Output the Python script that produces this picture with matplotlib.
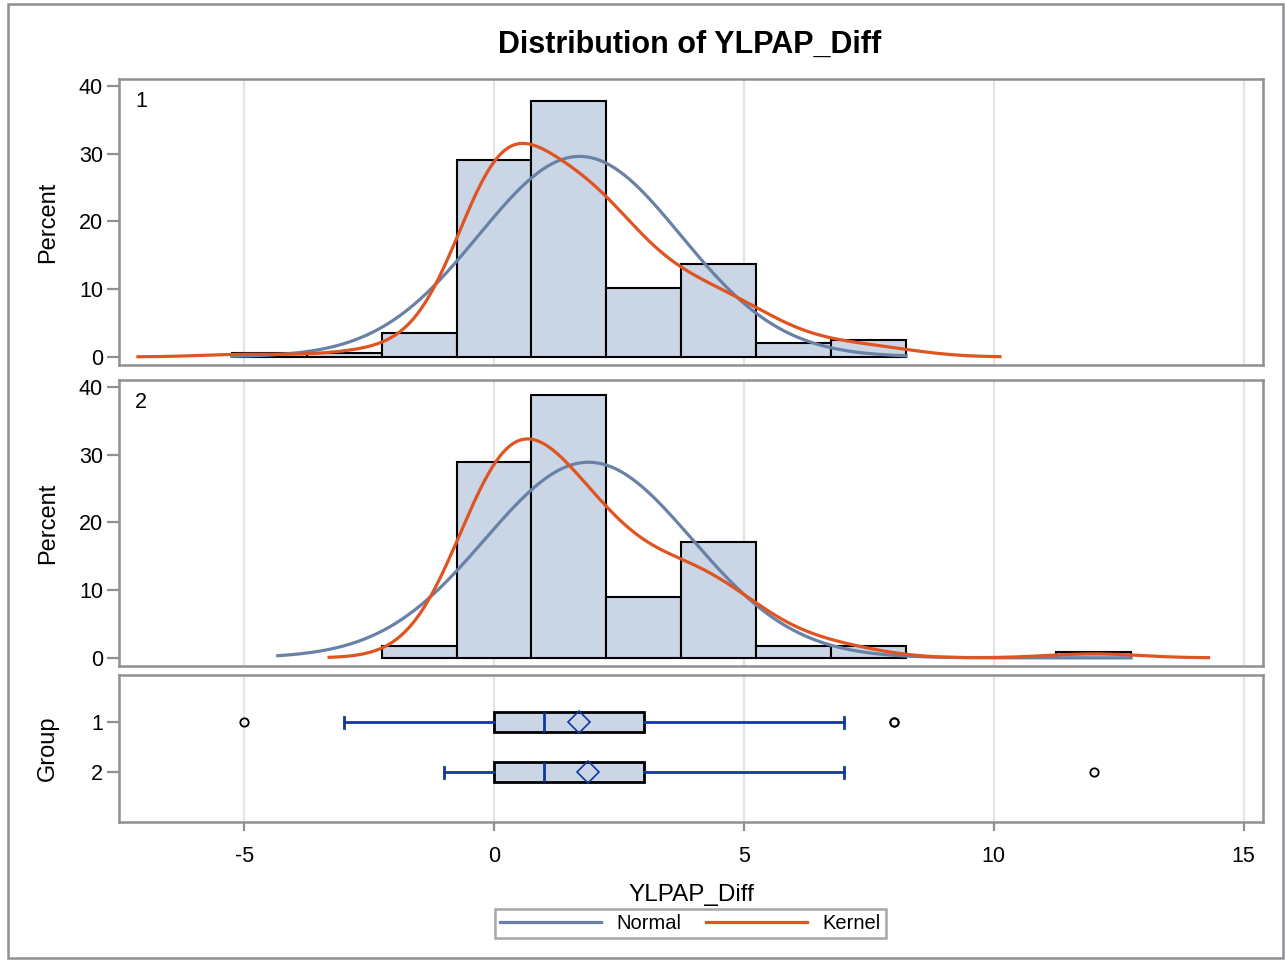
import numpy as np
import matplotlib
matplotlib.use("Agg")
import matplotlib.pyplot as plt
from matplotlib.patches import Rectangle
from matplotlib.lines import Line2D

plt.rcParams['font.family'] = ['Liberation Sans', 'DejaVu Sans']

# ---------------- data ----------------
groups = ['1', '2']
values_g1 = [-5, -3, -2, -1, 0, 1, 2, 3, 4, 5, 6, 7, 8]
counts_g1 = [1, 1, 2, 5, 57, 36, 38, 20, 15, 12, 4, 3, 2]
values_g2 = [-1, 0, 1, 2, 3, 4, 5, 6, 7, 12]
counts_g2 = [2, 32, 25, 18, 10, 12, 7, 2, 2, 1]
bin_width = 1.5
bin_first_edge = -5.25
bin_last_edge = 13.5
kernel_bandwidth = [0.85, 0.92]

box_q1 = [0, 0]
box_median = [1, 1]
box_q3 = [3, 3]
whisker_low = [-3, -1]
whisker_high = [7, 7]
box_mean = [1.71, 1.89]
outliers = [[-5, 8, 8], [12]]

x_ticks = [-5, 0, 5, 10, 15]
y_ticks = [0, 10, 20, 30, 40]

title = 'Distribution of YLPAP_Diff'
x_label = 'YLPAP_Diff'

# ---------------- style ----------------
FILL = '#CAD5E5'
NORMAL_C = '#6981A6'
KERNEL_C = '#DF5421'
BOX_BLUE = '#1238A0'
FRAME = '#8E9093'
GRID = '#E4E4E4'

W, H = 1285, 961
fig = plt.figure(figsize=(W / 100, H / 100), dpi=100)


def fx(px):
    return px / W


def fy(py):
    return 1 - py / H


L, R = 119, 1263
XMIN = (L - 494) / 49.97
XMAX = (R - 494) / 49.97

ax1 = fig.add_axes([fx(L), fy(365), (R - L) / W, (365 - 79) / H])
ax2 = fig.add_axes([fx(L), fy(666), (R - L) / W, (666 - 380) / H])
ax3 = fig.add_axes([fx(L), fy(822), (R - L) / W, (822 - 675) / H])


def style_axes(ax, show_x):
    ax.set_xlim(XMIN, XMAX)
    ax.set_xticks(x_ticks)
    for s in ax.spines.values():
        s.set_color(FRAME)
        s.set_linewidth(1.8)
    ax.tick_params(axis='y', direction='out', length=8.5, width=1.6,
                   color=FRAME, labelsize=15.5, labelcolor='black', pad=3)
    ax.tick_params(axis='x', direction='out', length=6.5, width=1.6,
                   color=FRAME, labelsize=15.5, labelcolor='black', pad=11)
    if not show_x:
        ax.tick_params(axis='x', length=0, labelbottom=False)
    for t in x_ticks:
        ax.axvline(t, color=GRID, lw=1.6, zorder=0)


def hist_panel(ax, values, counts, h, label):
    values = np.asarray(values, float)
    counts = np.asarray(counts, float)
    n = counts.sum()
    edges = np.arange(bin_first_edge, bin_last_edge + 1e-9, bin_width)
    hc, _ = np.histogram(values, bins=edges, weights=counts)
    pct = 100 * hc / n
    centers = (edges[:-1] + edges[1:]) / 2
    nz = pct > 0
    ax.bar(centers[nz], pct[nz], width=bin_width, color=FILL,
           edgecolor='black', linewidth=1.5, zorder=2)
    # normal fit
    m = (values * counts).sum() / n
    sd = np.sqrt(((values - m) ** 2 * counts).sum() / (n - 1))
    lo = min(centers[nz].min() - bin_width / 2, m - 3 * sd)
    hi = max(centers[nz].max() + bin_width / 2, m + 3 * sd)
    xs = np.linspace(lo, hi, 400)
    ys = 100 * bin_width * np.exp(-0.5 * ((xs - m) / sd) ** 2) / (sd * np.sqrt(2 * np.pi))
    ax.plot(xs, ys, color=NORMAL_C, lw=2.3, zorder=3)
    # kernel density
    xk = np.linspace(values.min() - 2.5 * h, values.max() + 2.5 * h, 500)
    z = (xk[:, None] - values[None, :]) / h
    dens = (np.exp(-0.5 * z ** 2) * counts[None, :]).sum(axis=1) / (n * h * np.sqrt(2 * np.pi))
    ax.plot(xk, 100 * bin_width * dens, color=KERNEL_C, lw=2.3, zorder=4)
    ax.set_ylim(-1.2, 41)
    ax.set_yticks(y_ticks)
    ax.set_ylabel('Percent', fontsize=17)
    ax.text((141 - L) / (R - L), 0.922, label, transform=ax.transAxes, fontsize=15.5,
            ha='center', va='center')


style_axes(ax1, False)
style_axes(ax2, False)
style_axes(ax3, True)
hist_panel(ax1, values_g1, counts_g1, kernel_bandwidth[0], groups[0])
hist_panel(ax2, values_g2, counts_g2, kernel_bandwidth[1], groups[1])

# ---------------- box plot panel ----------------
stats = []
for i in range(len(groups)):
    stats.append(dict(med=box_median[i], q1=box_q1[i], q3=box_q3[i],
                      whislo=whisker_low[i], whishi=whisker_high[i],
                      mean=box_mean[i], fliers=outliers[i], label=groups[i]))
ax3.bxp(stats, positions=[1, 2], widths=0.4, orientation='horizontal',
        patch_artist=True, showmeans=True, capwidths=0.22,
        boxprops=dict(facecolor=FILL, edgecolor='black', linewidth=2),
        whiskerprops=dict(color=BOX_BLUE, linewidth=2),
        capprops=dict(color=BOX_BLUE, linewidth=2),
        medianprops=dict(color=BOX_BLUE, linewidth=2),
        meanprops=dict(marker='D', markerfacecolor='none', markeredgecolor=BOX_BLUE,
                       markersize=11, markeredgewidth=1.2),
        flierprops=dict(marker='o', markerfacecolor='none', markeredgecolor='black',
                        markersize=6, markeredgewidth=1.3),
        manage_ticks=False, zorder=3)
ax3.set_ylim(3.0, 0.06)
ax3.set_yticks([1, 2])
ax3.set_yticklabels(groups)
ax3.set_xlim(XMIN, XMAX)
ax3.set_xticks(x_ticks)
ax3.set_xticklabels([str(t) for t in x_ticks])
ax3.set_ylabel('Group', fontsize=17)
ax3.set_xlabel(x_label, fontsize=17.5, labelpad=12)

# place y labels at a common x position
label_x_axes = (47.7 - L) / (R - L)
for ax in (ax1, ax2, ax3):
    ax.yaxis.set_label_coords(label_x_axes, 0.5)
    lab = ax.yaxis.label
    lab.set_va('center')
    lab.set_ha('center')
    lab.set_rotation_mode('anchor')

# title
fig.text(fx(690), fy(45), title, fontsize=22, fontweight='bold', ha='center', va='center')

# legend
handles = [Line2D([], [], color=NORMAL_C, lw=2.3), Line2D([], [], color=KERNEL_C, lw=2.3)]
leg = fig.legend(handles, ['Normal', 'Kernel'], loc='center',
                 bbox_to_anchor=(fx(690.5), fy(923.5)), ncol=2, frameon=True,
                 fancybox=False, edgecolor=FRAME, fontsize=14.5, handlelength=5.0,
                 handletextpad=0.8, columnspacing=1.2, borderpad=0.25,
                 borderaxespad=0)
leg.get_frame().set_linewidth(1.8)

# outer border
fig.patches.append(Rectangle((fx(8), fy(958)), fx(1283) - fx(8), (958 - 4) / H,
                             transform=fig.transFigure, fill=False,
                             edgecolor=FRAME, linewidth=1.8))

fig.savefig('out.png', dpi=100)
